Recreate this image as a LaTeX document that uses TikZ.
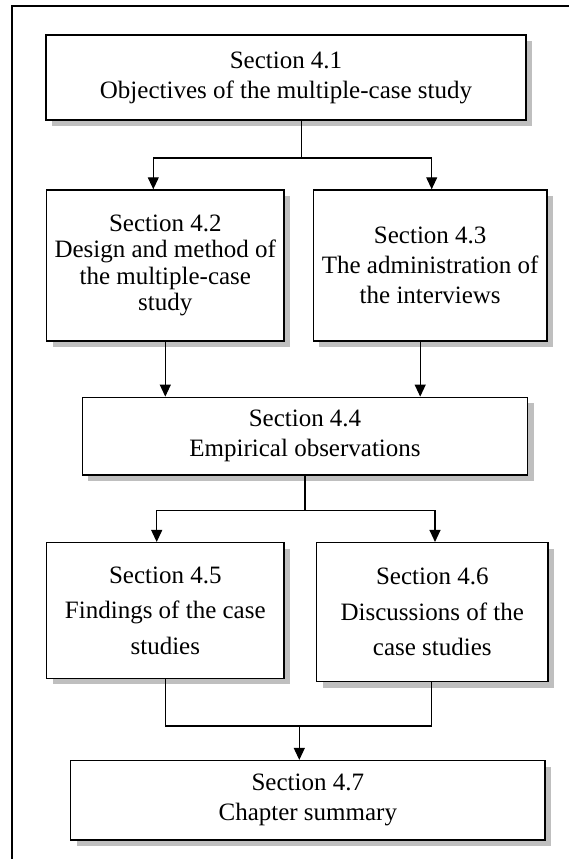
\documentclass[tikz,border=0pt]{standalone}
\usepackage{fontspec}
\setmainfont{Liberation Serif}
\usetikzlibrary{arrows.meta,shadows}
\begin{document}
\begin{tikzpicture}[x=1pt,y=-1pt,
  secbox/.style={draw=black, line width=1.5pt, fill=white, rectangle,
    inner sep=0pt, align=center,
    drop shadow={shadow xshift=6pt, shadow yshift=-6pt, fill=black!25, opacity=1}},
  widelines/.style={font=\fontsize{25}{30}\selectfont},
  tightlines/.style={font=\fontsize{25}{26.5}\selectfont},
  looselines/.style={font=\fontsize{25}{35.5}\selectfont},
  link/.style={line width=1.1pt},
  linkarrow/.style={link, -{Triangle[length=12pt,width=11pt]}},
  frameline/.style={line width=2.2pt}
]
\useasboundingbox (0,0) rectangle (568,859);

% outer frame (top and left edges)
\draw[frameline] (12,870) -- (12,6) -- (580,6);

% section boxes
\node[secbox, widelines, minimum width=480pt, minimum height=85pt] (b41) at (286,77.5)
  {Section 4.1\\Objectives of the multiple-case study};
\node[secbox, tightlines, minimum width=237.3pt, minimum height=151pt] (b42) at (165.3,265.5)
  {Section 4.2\\Design and method of\\the multiple-case\\study};
\node[secbox, widelines, minimum width=233.7pt, minimum height=151pt] (b43) at (430.2,265.5)
  {Section 4.3\\The administration of\\the interviews};
\node[secbox, widelines, minimum width=445.4pt, minimum height=77.7pt] (b44) at (305,436.2)
  {Section 4.4\\Empirical observations};
\node[secbox, looselines, minimum width=237.3pt, minimum height=135.6pt] (b45) at (165.3,610.5)
  {Section 4.5\\Findings of the case\\studies};
\node[secbox, looselines, minimum width=231.3pt, minimum height=139pt] (b46) at (432.3,612.2)
  {Section 4.6\\Discussions of the\\case studies};
\node[secbox, widelines, minimum width=474.3pt, minimum height=79.3pt] (b47) at (307.8,800.3)
  {Section 4.7\\Chapter summary};

% 4.1 splits into 4.2 and 4.3
\coordinate (j1) at (301.7,158);
\draw[link] (b41.south -| j1) -- (j1);
\draw[linkarrow] (j1) -| ([xshift=-12pt]b42.north);
\draw[linkarrow] (j1) -| ([xshift=1.5pt]b43.north);

% 4.2 and 4.3 feed 4.4
\coordinate (s42) at (b42.south);
\coordinate (s43) at ([xshift=-10pt]b43.south);
\draw[linkarrow] (s42) -- (s42 |- b44.north);
\draw[linkarrow] (s43) -- (s43 |- b44.north);

% 4.4 splits into 4.5 and 4.6
\coordinate (j2) at (305,510.7);
\draw[link] (b44.south) -- (j2);
\draw[linkarrow] (j2) -| ([xshift=-8.6pt]b45.north);
\draw[linkarrow] (j2) -| ([xshift=2.7pt]b46.north);

% 4.5 and 4.6 merge into 4.7
\coordinate (j3) at (299.3,726);
\coordinate (s46) at ([xshift=-0.6pt]b46.south);
\draw[link] (b45.south) |- (j3);
\draw[link] (s46) |- (j3);
\draw[linkarrow] (j3) -- (j3 |- b47.north);
\end{tikzpicture}
\end{document}
